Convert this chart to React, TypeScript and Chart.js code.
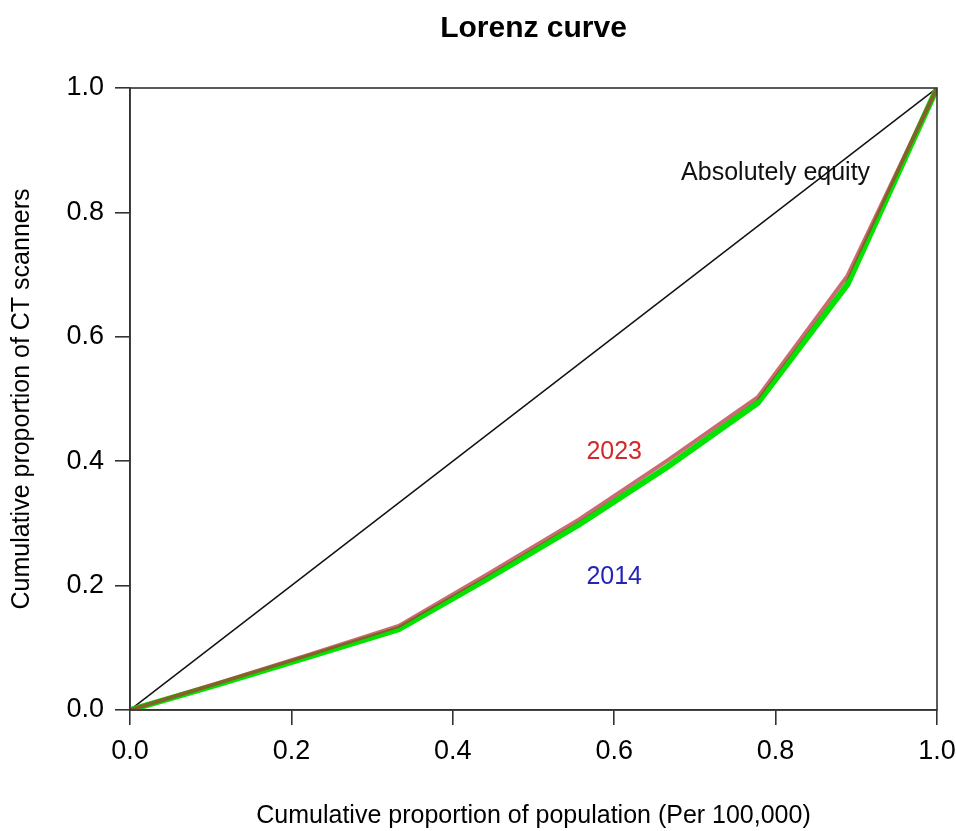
import React, { useEffect, useRef } from "react";
import { Chart, registerables } from "chart.js";

Chart.register(...registerables);

const populationShare: number[] = [0, 0.111, 0.222, 0.333, 0.444, 0.556, 0.667, 0.778, 0.889, 1.0];
const ct2023: number[] = [0, 0.044, 0.089, 0.135, 0.219, 0.306, 0.402, 0.503, 0.698, 1.0];
const ct2014: number[] = [0, 0.042, 0.086, 0.130, 0.212, 0.298, 0.392, 0.494, 0.684, 1.0];
const equityLine: number[][] = [[0, 0], [1, 1]];
const tickValues: number[] = [0, 0.2, 0.4, 0.6, 0.8, 1.0];

const chartTitle = "Lorenz curve";
const xTitle = "Cumulative proportion of population (Per 100,000)";
const yTitle = "Cumulative proportion of CT scanners";
const labels: { text: string; x: number; y: number; color: string }[] = [
  { text: "Absolutely equity", x: 0.8, y: 0.863, color: "#111111" },
  { text: "2023", x: 0.6, y: 0.415, color: "#d12a2a" },
  { text: "2014", x: 0.6, y: 0.214, color: "#2424b8" },
];

const FONT = "'Liberation Sans', Arial, Helvetica, sans-serif";

const overlayPlugin = {
  id: "overlay",
  afterDatasetsDraw(chart: any) {
    const { ctx, chartArea, scales } = chart;
    ctx.save();
    ctx.strokeStyle = "#333333";
    ctx.lineWidth = 1.6;
    ctx.strokeRect(chartArea.left, chartArea.top, chartArea.right - chartArea.left, chartArea.bottom - chartArea.top);
    ctx.font = `25px ${FONT}`;
    ctx.textAlign = "center";
    ctx.textBaseline = "middle";
    for (const l of labels) {
      ctx.fillStyle = l.color;
      ctx.fillText(l.text, scales.x.getPixelForValue(l.x), scales.y.getPixelForValue(l.y));
    }
    ctx.fillStyle = "#000";
    ctx.font = `bold 30px ${FONT}`;
    ctx.fillText(chartTitle, (chartArea.left + chartArea.right) / 2, 29);
    ctx.restore();
  },
};

export default function App() {
  const ref = useRef<HTMLCanvasElement | null>(null);
  useEffect(() => {
    document.body.style.margin = "0";
    if (!ref.current) return;
    const toPts = (ys: number[]) => ys.map((y, i) => ({ x: populationShare[i], y }));
    const chart = new Chart(ref.current, {
      type: "line",
      data: {
        datasets: [
          {
            label: "2023",
            data: toPts(ct2023),
            borderColor: "rgba(180,50,55,0.72)",
            borderWidth: 4,
            pointRadius: 0,
            order: 0,
          },
          {
            label: "2014",
            data: toPts(ct2014),
            borderColor: "rgb(0,228,0)",
            borderWidth: 6,
            pointRadius: 0,
            order: 1,
          },
          {
            label: "Equity",
            data: equityLine.map(([x, y]) => ({ x, y })),
            borderColor: "#111111",
            borderWidth: 1.5,
            pointRadius: 0,
            order: 2,
          },
        ],
      },
      plugins: [overlayPlugin],
      options: {
        responsive: false,
        animation: false,
        layout: { padding: { top: 88, right: 19, left: 0, bottom: 0 } },
        plugins: { legend: { display: false }, tooltip: { enabled: false }, title: { display: false } },
        scales: {
          x: {
            type: "linear",
            min: 0,
            max: 1,
            afterBuildTicks: (s: any) => { s.ticks = tickValues.map((v) => ({ value: v })); },
            afterFit: (s: any) => { s.height = 121; s.paddingLeft = 0; s.paddingRight = 0; },
            grid: { drawOnChartArea: false, drawTicks: true, tickLength: 15, color: "#333", lineWidth: 1.6 },
            border: { display: true, color: "#333", width: 1.6 },
            ticks: {
              padding: 10,
              color: "#000",
              font: { family: FONT, size: 27 },
              maxRotation: 0,
              autoSkip: false,
              callback: (v: any) => Number(v).toFixed(1),
            },
            title: { display: true, text: xTitle, color: "#000", font: { family: FONT, size: 25 }, padding: { top: 0, bottom: 0 } },
          },
          y: {
            type: "linear",
            min: 0,
            max: 1,
            afterBuildTicks: (s: any) => { s.ticks = tickValues.map((v) => ({ value: v })); },
            afterFit: (s: any) => { s.width = 130; s.paddingTop = 0; s.paddingBottom = 0; },
            grid: { drawOnChartArea: false, drawTicks: true, tickLength: 15, color: "#333", lineWidth: 1.6 },
            border: { display: true, color: "#333", width: 1.6 },
            ticks: {
              padding: 11,
              color: "#000",
              font: { family: FONT, size: 27 },
              autoSkip: false,
              callback: (v: any) => Number(v).toFixed(1),
            },
            title: { display: true, text: yTitle, color: "#000", font: { family: FONT, size: 25 }, padding: { top: 7, bottom: 0 } },
          },
        },
      },
    });
    return () => chart.destroy();
  }, []);
  return <canvas ref={ref} width={956} height={831} style={{ display: "block" }} />;
}
